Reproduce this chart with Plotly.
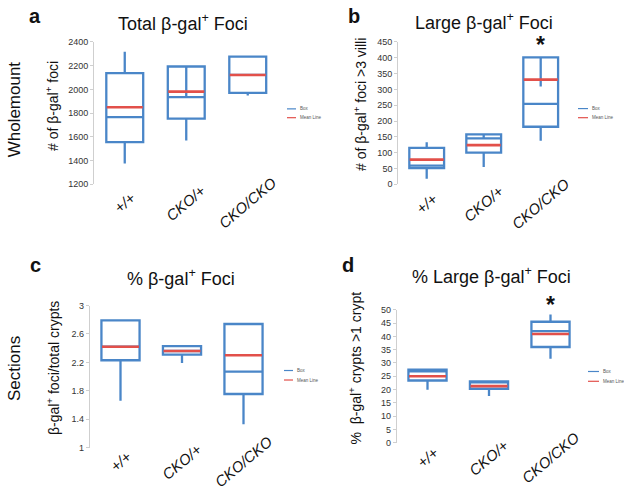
import plotly.graph_objects as go

W, H = 624, 498

groups = ["+/+", "CKO/+", "CKO/CKO"]

# a: total b-gal+ foci (wholemount)
a_lower = [1376, 1569, 1949]
a_q1 = [1555, 1753, 1971]
a_median = [1767, 1935, 2122]
a_q3 = [2138, 2193, 2276]
a_upper = [2317, 2193, 2276]
a_mean = [1850, 1981, 2122]
a_inner_top = [None, 2193, None]
a_inner_bottom = [None, 1935, None]

# b: large b-gal+ foci (wholemount)
b_lower = [18, 55, 138]
b_q1 = [51, 100, 182]
b_median = [59, 145, 254]
b_q3 = [115, 158, 401]
b_upper = [133, 158, 401]
b_mean = [78, 124, 331]
b_inner_top = [None, 158, 401]
b_inner_bottom = [None, 145, 309]

# c: % b-gal+ foci (sections)
c_lower = [1.66, 2.19, 1.33]
c_q1 = [2.23, 2.31, 1.755]
c_median = [2.42, 2.36, 2.07]
c_q3 = [2.79, 2.43, 2.74]
c_upper = [2.79, 2.43, 2.74]
c_mean = [2.42, 2.36, 2.30]

# d: % large b-gal+ foci (sections)
d_lower = [19.9, 17.6, 31.6]
d_q1 = [23.4, 20.3, 36.0]
d_median = [26.8, 22.7, 42.0]
d_q3 = [27.5, 23.1, 45.5]
d_upper = [27.5, 23.1, 48.2]
d_mean = [25.0, 21.3, 40.9]

BLUE = "#4a86c8"
RED = "#e2504a"
FONT = "Liberation Sans"


def px_x(p):
    return p / W


def px_y(p):
    return 1 - p / H


fig = go.Figure()


def add_panel(n, lower, q1, med, q3, upper, mean, width, box_px,
              inner_top=None, inner_bottom=None):
    xa = "x" if n == 1 else f"x{n}"
    ya = "y" if n == 1 else f"y{n}"
    fig.add_trace(go.Box(
        x=groups, q1=q1, median=med, q3=q3,
        lowerfence=lower, upperfence=upper,
        width=width, whiskerwidth=0, boxpoints=False,
        fillcolor="rgba(0,0,0,0)", line=dict(color=BLUE, width=2.3),
        xaxis=xa, yaxis=ya, showlegend=False, hoverinfo="skip",
    ))
    if inner_top:
        xs, ys = [], []
        for g, t, b in zip(groups, inner_top, inner_bottom):
            if t is None:
                continue
            xs += [g, g, None]
            ys += [t, b, None]
        fig.add_trace(go.Scatter(
            x=xs, y=ys, mode="lines", line=dict(color=BLUE, width=2.3),
            xaxis=xa, yaxis=ya, showlegend=False, hoverinfo="skip",
        ))
    # line-ew symbol is drawn 1.4x the marker size
    fig.add_trace(go.Scatter(
        x=groups, y=mean, mode="markers",
        marker=dict(symbol="line-ew", size=box_px / 1.4,
                    line=dict(color=RED, width=2.6)),
        xaxis=xa, yaxis=ya, showlegend=False, hoverinfo="skip",
    ))


add_panel(1, a_lower, a_q1, a_median, a_q3, a_upper, a_mean, 0.6, 36,
          a_inner_top, a_inner_bottom)
add_panel(2, b_lower, b_q1, b_median, b_q3, b_upper, b_mean, 0.61, 34,
          b_inner_top, b_inner_bottom)
add_panel(3, c_lower, c_q1, c_median, c_q3, c_upper, c_mean, 0.62, 37)
add_panel(4, d_lower, d_q1, d_median, d_q3, d_upper, d_mean, 0.62, 37)

# panel geometry in pixels: (x0, x1, ytop, ybottom)
panels = {
    1: (94, 278.5, 37.7, 183),
    2: (398.2, 569.2, 37.7, 183),
    3: (89.75, 274.25, 306.7, 451.7),
    4: (396.75, 581.25, 311, 446.7),
}
yranges = {1: ([1200, 2400], 200), 2: ([0, 450], 50),
           3: ([1, 3], 0.4), 4: ([0, 50], 5)}

layout = dict(
    width=W, height=H, margin=dict(l=0, r=0, t=0, b=0),
    paper_bgcolor="white", plot_bgcolor="white",
    font=dict(family=FONT, color="#222"),
)
for n, (x0, x1, yt, yb) in panels.items():
    sx = "" if n == 1 else str(n)
    layout[f"xaxis{sx}"] = dict(
        domain=[px_x(x0), px_x(x1)], range=[-0.5, 2.5],
        anchor=f"y{sx}", showline=False, showticklabels=False,
        showgrid=False, zeroline=False, ticks="",
        categoryorder="array", categoryarray=groups,
    )
    rng, dt = yranges[n]
    layout[f"yaxis{sx}"] = dict(
        domain=[px_y(yb), px_y(yt)], range=rng, dtick=dt, tick0=rng[0],
        anchor=f"x{sx}", showline=True, linecolor="#cfcfcf", linewidth=1,
        ticks="outside", ticklen=3, tickcolor="#cfcfcf",
        tickfont=dict(size=9, color="#333", family=FONT),
        showgrid=False, zeroline=False,
    )
fig.update_layout(**layout)

ann = []


def text(x, y, s, size, angle=0, bold=False, color="#111", xref="paper",
         xanchor="center"):
    ann.append(dict(
        x=x if xref != "paper" else px_x(x), y=px_y(y),
        xref=xref, yref="paper", text=f"<b>{s}</b>" if bold else s,
        showarrow=False, textangle=angle, xanchor=xanchor, yanchor="middle",
        font=dict(size=size, color=color, family=FONT),
    ))


# panel letters
text(35, 11, "a", 20, bold=True)
text(353.5, 11.5, "b", 20, bold=True)
text(35, 265, "c", 20, bold=True)
text(348, 265.5, "d", 20, bold=True)

# titles
text(182.5, 18, "Total β-gal<sup>+</sup> Foci", 18)
text(483.7, 17, "Large β-gal<sup>+</sup> Foci", 18)
text(181, 278, "% β-gal<sup>+</sup> Foci", 18)
text(491.5, 276, "% Large β-gal<sup>+</sup> Foci", 18)

# row labels
text(14.5, 107, "Wholemount", 17, angle=-90)
text(14.5, 371, "Sections", 17, angle=-90)

# y axis titles
text(52, 103, "# of β-gal<sup>+</sup> foci", 14, angle=-90)
text(360, 101, "# of β-gal<sup>+</sup> foci >3 villi", 14, angle=-90)
text(52.5, 371, "β-gal<sup>+</sup> foci/total crypts", 14, angle=-90)
text(355, 371, "%  β-gal<sup>+</sup> crypts >1 crypt", 14, angle=-90)

# category labels
for n, yl in [(1, 202), (2, 203), (3, 466), (4, 462)]:
    xa = "x" if n == 1 else f"x{n}"
    for g in groups:
        text(g, yl, f"<i>{g}</i>", 15, angle=-40, xref=xa)

# significance stars
text("CKO/CKO", 41, "*", 23, bold=True, xref="x2")
text("CKO/CKO", 306, "*", 23, bold=True, xref="x4")

# small legends
shapes = []
for lx0, lx1, y1, y2 in [(287, 296, 106, 115), (578, 588, 105.7, 115),
                         (284, 293, 373, 382.7), (588, 599, 374, 384)]:
    for yy, col, lab in [(y1, BLUE, "Box"), (y2, RED, "Mean Line")]:
        shapes.append(dict(type="line", xref="paper", yref="paper",
                           x0=px_x(lx0), x1=px_x(lx1), y0=px_y(yy), y1=px_y(yy),
                           line=dict(color=col, width=1.2)))
        text(lx1 + 2, yy, lab, 4.5, color="#555", xanchor="left")

fig.update_layout(annotations=ann, shapes=shapes)
# drop the default page margin so the figure fills the window
fig.write_html("out.html", config={"displayModeBar": False},
               post_script="document.body.style.margin='0';")
